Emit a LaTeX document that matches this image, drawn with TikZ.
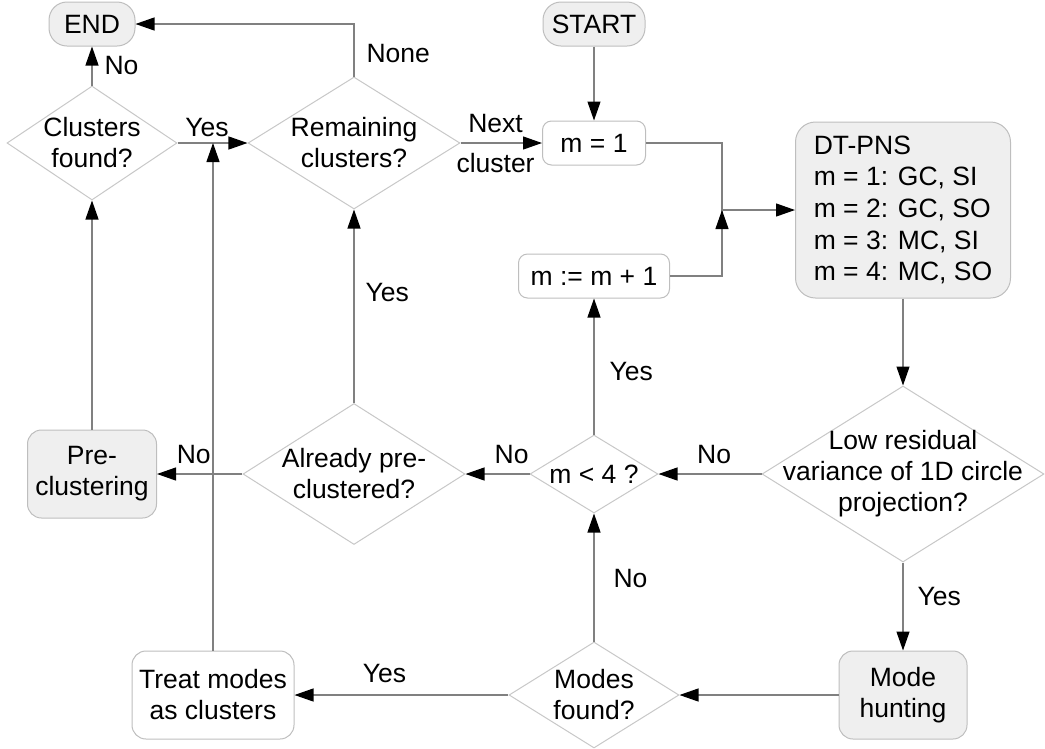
\documentclass[tikz,border=0pt]{standalone}
\usepackage{fontspec}
\setmainfont{Liberation Sans}
\usepackage{tikz}
\usetikzlibrary{shapes.geometric, arrows.meta}
\definecolor{lineColor}{RGB}{128, 128, 128}
\definecolor{boxFill}{RGB}{239, 239, 239}
\definecolor{boxBorder}{RGB}{190, 190, 190}
\definecolor{diaBorder}{RGB}{200, 200, 200}
\tikzset{
    chart_text/.style={
        font=\fontsize{26.5}{31}\selectfont,
        text=black
    },
    term_node/.style={
        chart_text,
        rectangle,
        rounded corners=18pt,
        draw=boxBorder,
        line width=1pt,
        fill=boxFill,
        minimum height=44pt
    },
    proc_node/.style={
        chart_text,
        rectangle,
        rounded corners=9pt,
        draw=boxBorder,
        line width=1pt,
        fill=white,
        align=center,
        minimum height=44pt
    },
    grey_node/.style={
        proc_node,
        rounded corners=14pt,
        fill=boxFill,
        minimum height=88pt
    },
    dec_node/.style={
        chart_text,
        diamond,
        aspect=1.6,
        inner sep=-30pt,
        draw=diaBorder,
        line width=1pt,
        fill=white,
        align=center
    },
    flow_edge/.style={
        -{Triangle[length=19pt, width=13pt, color=black]},
        draw=lineColor,
        line width=1.2pt
    },
    flow_line/.style={
        draw=lineColor,
        line width=1.2pt
    },
    edge_label/.style={
        chart_text,
        inner sep=2pt
    }
}
\begin{document}
\begin{tikzpicture}[x=1pt, y=-1pt]
    \useasboundingbox (0,0) rectangle (1045,748);

    % top rows
    \node[term_node, minimum width=86pt] (end) at (92,24) {END};
    \node[term_node, minimum width=102pt] (start) at (594,24) {START};
    \node[dec_node, minimum width=170pt, minimum height=114pt] (found) at (92,143) {Clusters\\found?};
    \node[dec_node, minimum width=212pt, minimum height=132pt] (remain) at (354,143) {Remaining\\clusters?};
    \node[proc_node, minimum width=103pt] (mone) at (594,143) {m = 1};
    \node[proc_node, minimum width=151pt] (mnext) at (594,276) {m := m + 1};
    \node[grey_node, minimum width=215pt, minimum height=176pt, rounded corners=20pt,
          align=left, font=\fontsize{26.5}{31.7}\selectfont] (pns) at (903,210)
        {DT-PNS\\m = 1: GC, SI\\m = 2: GC, SO\\m = 3: MC, SI\\m = 4: MC, SO};

    % middle row
    \node[grey_node, minimum width=129pt] (precl) at (92,474) {Pre-\\clustering};
    \node[dec_node, minimum width=222pt, minimum height=141pt] (already) at (354,474) {Already pre-\\clustered?};
    \node[dec_node, minimum width=128pt, minimum height=78pt] (mless) at (594,474) {m < 4 ?};
    \node[dec_node, minimum width=282pt, minimum height=176pt] (lowvar) at (903,474)
        {Low residual\\variance of 1D circle\\projection?};

    % bottom row
    \node[proc_node, minimum width=162pt, minimum height=88pt, rounded corners=14pt] (treat) at (213,695) {Treat modes\\as clusters};
    \node[dec_node, minimum width=170pt, minimum height=106pt] (modes) at (594,695) {Modes\\found?};
    \node[grey_node, minimum width=128pt] (hunt) at (903,695) {Mode\\hunting};

    \coordinate (join) at (722,210);
    \coordinate (merge) at (treat.north |- found.east);

    \draw[flow_line] (mone.east) -| (join);
    \draw[flow_line] (mnext.east) -| (join);
    \draw[flow_edge] (remain.north) |- node[edge_label, pos=0.22, right=10pt] {None} (end.east);

    \draw[flow_edge]
        (start) edge (mone)
        (found) edge node[edge_label, pos=0.5, right=10pt] {No} (end)
        (found) edge node[edge_label, pos=0.42, above=4pt] {Yes} (remain)
        (remain) edge node[edge_label, pos=0.43, above=8pt] {Next}
                      node[edge_label, pos=0.43, below=8pt] {cluster} (mone)
        (join) edge (pns)
        (pns) edge (lowvar)
        (lowvar) edge node[edge_label, pos=0.39, right=12pt] {Yes} (hunt)
        (lowvar) edge node[edge_label, pos=0.46, above=8pt] {No} (mless)
        (mless) edge node[edge_label, pos=0.46, right=13pt] {Yes} (mnext)
        (hunt) edge (modes)
        (modes) edge node[edge_label, pos=0.49, right=17pt] {No} (mless)
        (modes) edge node[edge_label, pos=0.58, above=10pt] {Yes} (treat)
        (mless) edge node[edge_label, pos=0.28, above=8pt] {No} (already)
        (already) edge node[edge_label, pos=0.57, above=8pt] {No} (precl)
        (already) edge node[edge_label, pos=0.57, right=9pt] {Yes} (remain)
        (precl) edge (found)
        (treat) edge (merge);
\end{tikzpicture}
\end{document}
